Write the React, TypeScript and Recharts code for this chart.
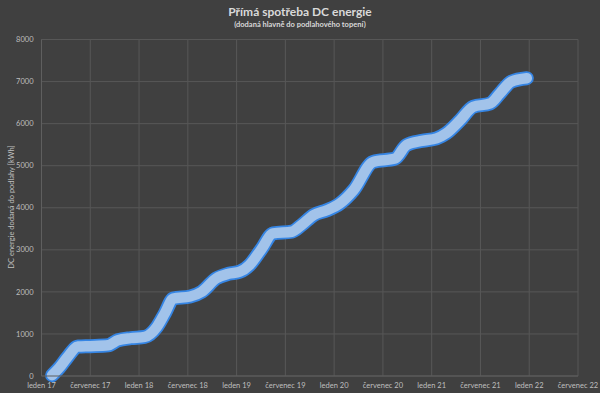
import { LineChart, Line, XAxis, YAxis, CartesianGrid, Label } from "recharts";

// months since leden 2017 (fractional) and cumulative kWh
const monthIdx = [
  1.3, 2.2, 3.2, 4.5, 6.0, 8.2, 9.4, 11.0, 12.7, 14.2, 15.2, 16.2, 18.3, 19.7,
  21.5, 23.0, 24.4, 25.6, 27.0, 28.5, 30.8, 32.0, 33.5, 35.1, 36.7, 38.4, 40.8,
  43.5, 44.9, 46.8, 48.6, 49.8, 51.5, 53.1, 55.2, 56.4, 57.8, 59.7,
];
const energy = [
  20, 200, 450, 700, 710, 730, 850, 900, 930, 1170, 1500, 1840, 1890, 2000,
  2320, 2430, 2480, 2640, 3000, 3390, 3430, 3590, 3830, 3940, 4100, 4420, 5090,
  5170, 5490, 5590, 5650, 5770, 6080, 6400, 6480, 6720, 7000, 7080,
];
const xTicks = [0, 6, 12, 18, 24, 30, 36, 42, 48, 54, 60, 66];
const yTicks = [0, 1000, 2000, 3000, 4000, 5000, 6000, 7000, 8000];

const data = monthIdx.map((m, i) => ({ m, kwh: energy[i] }));

const fmtMonth = (v: number) =>
  (v % 12 === 0 ? "leden " : "červenec ") + (17 + Math.floor(v / 12));

const font = "Lato, 'Open Sans', sans-serif";

export default function App() {
  return (
    <div
      style={{
        position: "absolute",
        left: 0,
        top: 0,
        width: 600,
        height: 393,
        background: "#404040",
        fontFamily: font,
      }}
    >
      <div
        style={{
          position: "absolute",
          top: 4,
          width: 600,
          textAlign: "center",
          color: "#D9D9D9",
          fontSize: 12,
          fontWeight: 700,
        }}
      >
        Přímá spotřeba DC energie
      </div>
      <div
        style={{
          position: "absolute",
          top: 20,
          width: 600,
          textAlign: "center",
          color: "#D9D9D9",
          fontSize: 7.5,
          fontWeight: 700,
        }}
      >
        (dodaná hlavně do podlahového topení)
      </div>
      <LineChart
        width={600}
        height={393}
        data={data}
        margin={{ top: 39.5, right: 22, bottom: 0, left: 0 }}
      >
        <CartesianGrid stroke="#575757" strokeWidth={1} />
        <XAxis
          dataKey="m"
          type="number"
          domain={[0, 66]}
          ticks={xTicks}
          interval={0}
          tickFormatter={fmtMonth}
          height={17}
          tickSize={0}
          tickMargin={7}
          stroke="#5f5f5f"
          tick={{ fill: "#BFBFBF", fontSize: 7.5, fontFamily: font }}
        />
        <YAxis
          type="number"
          domain={[0, 8000]}
          ticks={yTicks}
          width={41.5}
          tickSize={0}
          tickMargin={8}
          stroke="#5f5f5f"
          tick={{ fill: "#BFBFBF", fontSize: 7.5, fontFamily: font }}
        >
          <Label
            content={() => (
              <text
                x={12}
                y={207}
                transform="rotate(-90 12 207)"
                textAnchor="middle"
                dominantBaseline="middle"
                fill="#BFBFBF"
                fontSize={7.5}
                fontFamily={font}
              >
                DC energie dodaná do podlahy [kWh]
              </text>
            )}
          />
        </YAxis>
        <Line
          type="monotone"
          dataKey="kwh"
          stroke="#3585E4"
          strokeWidth={14}
          strokeLinecap="round"
          strokeLinejoin="round"
          dot={false}
          activeDot={false}
          isAnimationActive={false}
        />
        <Line
          type="monotone"
          dataKey="kwh"
          stroke="#A2C3EA"
          strokeWidth={10.5}
          strokeLinecap="round"
          strokeLinejoin="round"
          dot={false}
          activeDot={false}
          isAnimationActive={false}
        />
      </LineChart>
    </div>
  );
}
